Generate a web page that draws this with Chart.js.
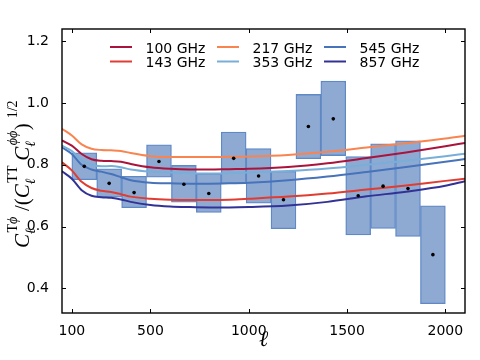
<!DOCTYPE html>
<html><head><meta charset="utf-8">
<script src="https://cdn.jsdelivr.net/npm/chart.js@4.4.0/dist/chart.umd.min.js"></script>
<style>html,body{margin:0;padding:0;background:#fff}canvas{display:block}</style>
</head><body>
<canvas id="c" width="480" height="360"></canvas>
<script>
// ---- data ----
const binCenters = [163.3, 290, 416.7, 543.3, 670, 796.7, 923.3, 1050, 1176.7, 1303.3, 1430, 1556.7, 1683.3, 1810, 1936.7];
const ratio = [0.795, 0.740, 0.710, 0.811, 0.737, 0.707, 0.821, 0.764, 0.687, 0.924, 0.949, 0.700, 0.731, 0.723, 0.509];
const lower = [0.752, 0.695, 0.661, 0.760, 0.679, 0.646, 0.739, 0.676, 0.593, 0.820, 0.830, 0.573, 0.594, 0.568, 0.350];
const upper = [0.839, 0.787, 0.763, 0.865, 0.798, 0.771, 0.906, 0.853, 0.779, 1.028, 1.071, 0.827, 0.868, 0.878, 0.667];

const ell = [50, 100, 150, 200, 250, 300, 350, 400, 500, 600, 700, 800, 900, 1000, 1200, 1400, 1600, 1800, 2000, 2100];
const curve100 = [0.879, 0.862, 0.835, 0.818, 0.813, 0.812, 0.810, 0.803, 0.792, 0.787, 0.785, 0.785, 0.786, 0.787, 0.793, 0.805, 0.822, 0.840, 0.860, 0.871];
const curve143 = [0.808, 0.782, 0.745, 0.725, 0.716, 0.712, 0.705, 0.697, 0.690, 0.687, 0.686, 0.686, 0.687, 0.690, 0.697, 0.707, 0.720, 0.733, 0.748, 0.755];
const curve217 = [0.917, 0.895, 0.866, 0.852, 0.848, 0.847, 0.845, 0.838, 0.828, 0.825, 0.825, 0.825, 0.826, 0.827, 0.832, 0.842, 0.856, 0.870, 0.885, 0.894];
const curve353 = [0.862, 0.845, 0.815, 0.800, 0.795, 0.796, 0.792, 0.785, 0.778, 0.775, 0.773, 0.772, 0.773, 0.775, 0.780, 0.788, 0.800, 0.813, 0.828, 0.836];
const curve545 = [0.857, 0.835, 0.800, 0.785, 0.778, 0.770, 0.760, 0.750, 0.742, 0.740, 0.739, 0.739, 0.740, 0.742, 0.750, 0.762, 0.777, 0.793, 0.810, 0.819];
const curve857 = [0.779, 0.755, 0.718, 0.700, 0.695, 0.693, 0.688, 0.680, 0.670, 0.665, 0.663, 0.662, 0.662, 0.663, 0.668, 0.680, 0.698, 0.713, 0.732, 0.747];

const freqLabels = ['100 GHz', '143 GHz', '217 GHz', '353 GHz', '545 GHz', '857 GHz'];
const freqColors = ['#aa143c', '#e03c32', '#f98450', '#78aed8', '#4673b9', '#323296'];
const curves = [curve100, curve143, curve217, curve353, curve545, curve857];

const xTicks = [100, 500, 1000, 1500, 2000];
const yTicks = [0.4, 0.6, 0.8, 1.0, 1.2];

// ---- datasets ----
const lineSets = curves.map((c, i) => ({
  type: 'line',
  label: freqLabels[i],
  data: ell.map((l, k) => ({x: l, y: c[k]})),
  borderColor: freqColors[i],
  borderWidth: 2,
  pointRadius: 0,
  fill: false,
  cubicInterpolationMode: 'monotone',
  order: 2
}));

const boxSet = {
  type: 'bar',
  label: 'bins',
  data: binCenters.map((c, i) => ({x: c, y: [lower[i], upper[i]]})),
  backgroundColor: '#8eaad3',
  borderColor: '#5f88c6',
  borderWidth: 1.3,
  borderSkipped: false,
  barPercentage: 1,
  categoryPercentage: 1,
  order: 3
};

const dotSet = {
  type: 'scatter',
  label: 'ratio',
  data: binCenters.map((c, i) => ({x: c, y: ratio[i]})),
  pointRadius: 1.8,
  pointBackgroundColor: '#000',
  pointBorderWidth: 0,
  showLine: false,
  order: 1
};

const tickFont = {family: '"DejaVu Sans", sans-serif', size: 14};

const framePlugin = {
  id: 'frame',
  afterDatasetsDraw(chart) {
    const ctx = chart.ctx, ca = chart.chartArea;
    const xs = chart.scales.x, ys = chart.scales.y;
    ctx.save();
    ctx.strokeStyle = '#000';
    ctx.lineWidth = 1;
    const L = 4;
    ctx.beginPath();
    xTicks.forEach(v => {
      const p = Math.round(xs.getPixelForValue(v)) + 0.5;
      ctx.moveTo(p, ca.bottom); ctx.lineTo(p, ca.bottom - L);
      ctx.moveTo(p, ca.top); ctx.lineTo(p, ca.top + L);
    });
    yTicks.forEach(v => {
      const p = Math.round(ys.getPixelForValue(v)) + 0.5;
      ctx.moveTo(ca.left, p); ctx.lineTo(ca.left + L, p);
      ctx.moveTo(ca.right, p); ctx.lineTo(ca.right - L, p);
    });
    ctx.stroke();
    ctx.lineWidth = 1.4;
    ctx.strokeRect(ca.left, ca.top, ca.right - ca.left, ca.bottom - ca.top);

    // legend (3 columns x 2 rows, column-major)
    const colX = [110, 217, 324];
    const rowY = [47, 61.5];
    ctx.font = '14px "DejaVu Sans", sans-serif';
    ctx.textBaseline = 'alphabetic';
    ctx.textAlign = 'left';
    freqLabels.forEach((lab, i) => {
      const c = Math.floor(i / 2), r = i % 2;
      ctx.strokeStyle = freqColors[i];
      ctx.lineWidth = 2;
      ctx.beginPath();
      ctx.moveTo(colX[c], rowY[r]); ctx.lineTo(colX[c] + 22, rowY[r]);
      ctx.stroke();
      ctx.fillStyle = '#000';
      ctx.fillText(lab, colX[c] + 35.5, rowY[r] + 5.5);
    });

    // y-axis label
    const big = 'italic 21px "Liberation Serif", "DejaVu Serif", serif';
    const bigR = '21px "Liberation Serif", "DejaVu Serif", serif';
    const sm = 'italic 14px "Liberation Serif", "DejaVu Serif", serif';
    const smR = '14px "Liberation Serif", "DejaVu Serif", serif';
    const pieces = [
      {t: 'C', f: big},
      {sub: [['\u2113', sm]], sup: [['T', smR], ['\u03d5', sm]]},
      {t: ' /(', f: bigR},
      {t: 'C', f: big},
      {sub: [['\u2113', sm]], sup: [['TT', smR]]},
      {t: '\u2009C', f: big},
      {sub: [['\u2113', sm]], sup: [['\u03d5\u03d5', sm]]},
      {t: ')', f: bigR},
      {sup: [[' 1/2', smR]]}
    ];
    const runW = run => run.reduce((s, [t, f]) => { ctx.font = f; return s + ctx.measureText(t).width; }, 0);
    let total = 0;
    pieces.forEach(p => {
      if (p.t) { ctx.font = p.f; p.w = ctx.measureText(p.t).width; }
      else { p.w = Math.max(p.sub ? runW(p.sub) : 0, p.sup ? runW(p.sup) : 0) + 2; }
      total += p.w;
    });
    ctx.translate(29, 174);
    ctx.rotate(-Math.PI / 2);
    ctx.fillStyle = '#000';
    let x = -total / 2;
    const drawRun = (run, x0, y0) => {
      let xx = x0;
      run.forEach(([t, f]) => { ctx.font = f; ctx.fillText(t, xx, y0); xx += ctx.measureText(t).width; });
    };
    pieces.forEach(p => {
      if (p.t) { ctx.font = p.f; ctx.fillText(p.t, x, 0); }
      else {
        if (p.sub) drawRun(p.sub, x, 6);
        if (p.sup) drawRun(p.sup, x + 1.5, -12);
      }
      x += p.w;
    });
    ctx.restore();
  }
};

new Chart(document.getElementById('c'), {
  type: 'bar',
  data: {datasets: [boxSet, ...lineSets, dotSet]},
  options: {
    responsive: false,
    animation: false,
    devicePixelRatio: 1,
    layout: {padding: {top: 29, right: 15, left: 0, bottom: 0}},
    plugins: {legend: {display: false}, tooltip: {enabled: false}},
    scales: {
      x: {
        type: 'linear',
        min: 50, max: 2100,
        offset: false,
        grid: {display: false, offset: false},
        border: {display: false},
        afterBuildTicks: s => { s.ticks = xTicks.map(v => ({value: v})); },
        afterFit: s => { s.height = 47; },
        ticks: {font: tickFont, color: '#000', padding: 2, maxRotation: 0, autoSkip: false, callback: v => String(v)},
        title: {display: true, text: '\u2113', font: {family: '"Liberation Serif", "DejaVu Serif", serif', size: 22, style: 'italic'}, color: '#000', padding: {top: 0, bottom: 7}}
      },
      y: {
        min: 0.32, max: 1.24,
        grid: {display: false},
        border: {display: false},
        afterBuildTicks: s => { s.ticks = yTicks.map(v => ({value: v})); },
        afterFit: s => { s.width = 62; },
        ticks: {font: tickFont, color: '#000', padding: 5, callback: v => v.toFixed(1)}
      }
    }
  },
  plugins: [framePlugin]
});
</script>
</body></html>
